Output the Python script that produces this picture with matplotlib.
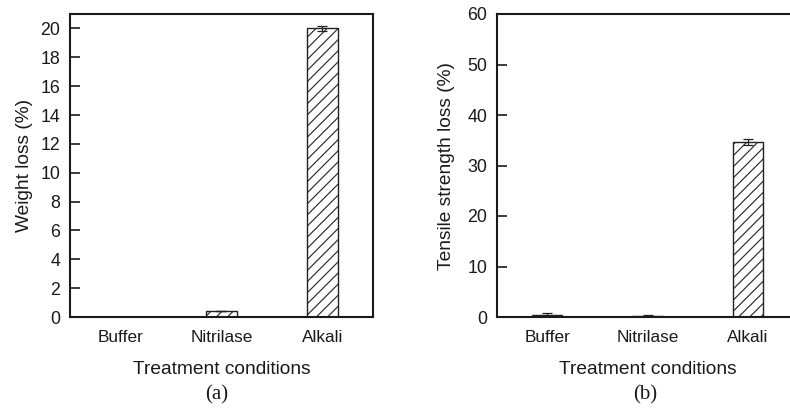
import matplotlib
matplotlib.use("Agg")
import matplotlib.pyplot as plt

plt.rcParams['font.family'] = ['Liberation Sans', 'DejaVu Sans']
plt.rcParams['hatch.linewidth'] = 0.8

categories = ["Buffer", "Nitrilase", "Alkali"]
weight_loss = [0.0, 0.45, 20.0]
weight_err = [0.0, 0.0, 0.2]
tensile_loss = [0.3, 0.2, 34.6]
tensile_err = [0.4, 0.2, 0.6]
weight_ticks = list(range(0, 21, 2))
tensile_ticks = list(range(0, 61, 10))

fig = plt.figure(figsize=(7.9, 4.08), dpi=100)
ax1 = fig.add_axes([70/790, 91/408, 303/790, 303/408])
ax2 = fig.add_axes([497/790, 91/408, 301/790, 303/408])

def draw(ax, vals, errs, ylim, yticks, ylabel, tag, tagx, ylpad):
    x = list(range(len(categories)))
    ax.bar(x, vals, width=0.3, color='white', edgecolor='#222222', linewidth=1.0,
           hatch='///', yerr=errs, capsize=3.5,
           error_kw=dict(ecolor='#222222', elinewidth=0.9, capthick=0.9))
    ax.set_xlim(-0.5, 2.5)
    ax.set_ylim(*ylim)
    ax.set_yticks(yticks)
    ax.set_xticks(x)
    ax.set_xticklabels(categories)
    ax.tick_params(axis='x', length=0, pad=9, labelsize=12.4, colors='#1a1a1a')
    ax.tick_params(axis='y', length=7, width=1.2, pad=7, labelsize=12.8,
                   direction='in', colors='#1a1a1a')
    for s in ax.spines.values():
        s.set_linewidth(1.5)
        s.set_color('#1a1a1a')
    ax.set_ylabel(ylabel, fontsize=13.8, labelpad=ylpad, color='#1a1a1a')
    ax.set_xlabel("Treatment conditions", fontsize=13.8, labelpad=12, color='#1a1a1a')
    fig.text(tagx, 1 - 395/408, tag, fontsize=15, family='Liberation Serif',
             ha='center', va='center', color='#1a1a1a')

draw(ax1, weight_loss, weight_err, (0, 21), weight_ticks, "Weight loss (%)", "(a)", 217/790, 5.5)
draw(ax2, tensile_loss, tensile_err, (0, 60), tensile_ticks, "Tensile strength loss (%)", "(b)", 645/790, 9)

fig.savefig("out.png", dpi=100)
